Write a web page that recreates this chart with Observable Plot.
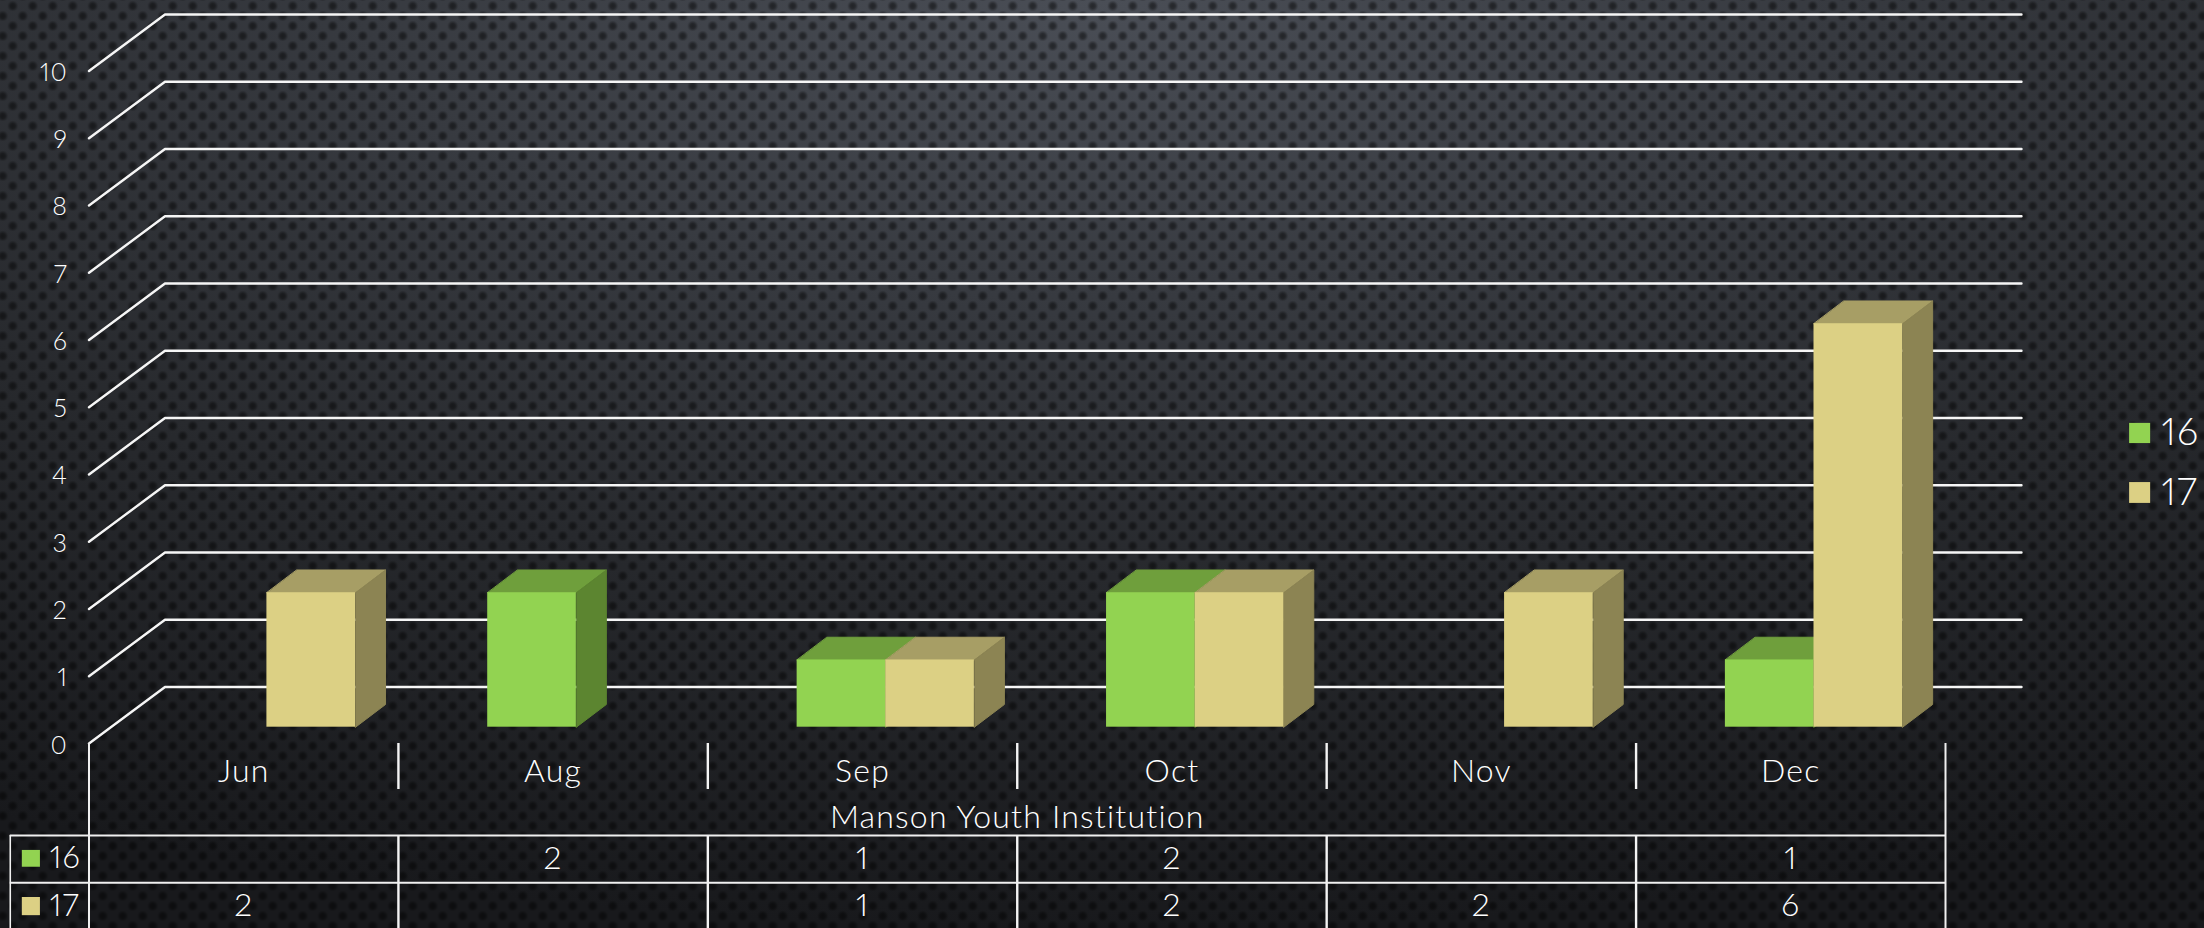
<!DOCTYPE html>
<html><head><meta charset="utf-8">
<script src="https://cdn.jsdelivr.net/npm/d3@7"></script>
<script src="https://cdn.jsdelivr.net/npm/@observablehq/plot@0.6"></script>
<style>
html,body{margin:0;padding:0;width:2204px;height:928px;overflow:hidden}
body{background-color:#1a1c1f;
background-image:
 radial-gradient(circle at center,rgba(0,0,0,.5) 0,rgba(0,0,0,.42) 2.5px,rgba(0,0,0,0) 5.5px),
 radial-gradient(circle at center,rgba(0,0,0,.5) 0,rgba(0,0,0,.42) 2.5px,rgba(0,0,0,0) 5.5px),
 radial-gradient(ellipse 2300px 930px at 50% 0,#4a4e56 0,#373a40 32%,#27292d 62%,#18191c 100%);
background-size:20px 20px,20px 20px,100% 100%;
background-position:2.7px -4px,-7.3px 6px,0 0;
background-repeat:repeat,repeat,no-repeat}
#c svg{display:block}
#c svg text{font-variant-numeric:proportional-nums lining-nums;letter-spacing:1.2px}
</style></head><body><div id="c"></div>
<script>
const months = ["Jun","Aug","Sep","Oct","Nov","Dec"];
const series16 = [null,2,1,2,null,1];
const series17 = [2,null,1,2,2,6];
const seriesNames = ["16","17"];
const yTicks = [0,1,2,3,4,5,6,7,8,9,10];
const groupTitle = "Manson Youth Institution";

const font = "'Lato','Open Sans',sans-serif";
const ink = "#ffffff";
// projection of the pseudo-3D box, in scale units
const wallDX = 0.2456, wallDY = 0.84;
const barFrontDX = 0.075, barFrontDY = 0.2424, barBackDX = 0.172, barBackDY = 0.58;
const barW = 0.2864;
const colors = {
  "16":{front:"#92d351",top:"#6f9f3c",side:"#5c8530"},
  "17":{front:"#dcd084",top:"#a79e65",side:"#8c8453"}
};
const rowTick=-0.684, rowTitle=-1.11, rowTop=-1.368, rowMid=-2.07, rowEnd=-2.8, row16=-1.71, row17=-2.42;

const faces = (vals,name) => {
  const top=[],side=[],front=[];
  vals.forEach((v,i)=>{
    if (v==null) return;
    const x0 = i+0.5 + (name==="16"?-barW:0) + barFrontDX, x1 = x0+barW;
    const y0 = barFrontDY, y1 = v+barFrontDY;
    const bx = barBackDX-barFrontDX, by = barBackDY-barFrontDY;
    const z=name+i;
    [[x0,y1],[x1,y1],[x1+bx,y1+by],[x0+bx,y1+by]].forEach(([x,y])=>top.push({z,x,y}));
    [[x1,y0],[x1+bx,y0+by],[x1+bx,y1+by],[x1,y1]].forEach(([x,y])=>side.push({z,x,y}));
    front.push({x1:x0,x2:x1,y1:y0,y2:y1});
  });
  return {top,side,front};
};
const barMarks = (vals,name) => {
  const f=faces(vals,name), c=colors[name];
  const poly=(d,col)=>Plot.line(d,{x:"x",y:"y",z:"z",fill:col,stroke:col,strokeWidth:1,curve:"linear-closed"});
  return [
    poly(f.top,c.top), poly(f.side,c.side),
    Plot.rect(f.front,{x1:"x1",x2:"x2",y1:"y1",y2:"y2",fill:c.front,inset:0})
  ];
};
const grid = yTicks.flatMap(v=>[
  {z:v,x:0,y:v},{z:v,x:wallDX,y:v+wallDY},{z:v,x:6+wallDX,y:v+wallDY}
]);
const inner = d3.range(1,6);
const centers = months.map((_,i)=>i+0.5);
const txt = {fill:ink,fontFamily:font,fontWeight:300,textAnchor:"middle",lineAnchor:"middle"};
const cellRows = (vals,y)=>vals.map((v,i)=>({x:i+0.5,y,t:v})).filter(d=>d.t!=null);

const plot = Plot.plot({
  width:2204,height:928,
  marginLeft:88.5,marginRight:259,marginTop:14,marginBottom:185,
  style:{background:"transparent",fontFamily:font},
  x:{type:"linear",domain:[0,6],axis:null},
  y:{type:"linear",domain:[0,10.84],axis:null},
  marks:[
    Plot.line(grid,{x:"x",y:"y",z:"z",stroke:"#f6f6f6",strokeWidth:2.4}),
    ...barMarks(series16,"16"),
    ...barMarks(series17,"17"),
    Plot.axisY({ticks:yTicks,tickSize:0,tickPadding:21,dy:2,fontSize:25,fill:ink,fontWeight:300,label:null,tickFormat:d=>String(d)}),
    Plot.axisX({ticks:centers,tickSize:0,tickPadding:28,fontSize:32,fill:ink,fontWeight:300,label:null,lineAnchor:"middle",tickFormat:d=>months[d-0.5]}),
    // table rules
    Plot.ruleX(inner,{x:d=>d,y1:0,y2:rowTick,stroke:"#f4f4f4",strokeWidth:2.4}),
    Plot.ruleX(inner,{x:d=>d,y1:rowTop,y2:rowEnd,stroke:"#f4f4f4",strokeWidth:2.4}),
    Plot.ruleX([0,6],{x:d=>d,y1:0,y2:rowEnd,stroke:"#f0f0f0",strokeWidth:2}),
    Plot.ruleX([-0.2545],{x:d=>d,y1:rowTop,y2:rowEnd,stroke:"#f0f0f0",strokeWidth:1.6}),
    Plot.ruleY([rowTop,rowMid],{y:d=>d,x1:-0.2545,x2:6,stroke:"#f0f0f0",strokeWidth:2}),
    Plot.text([groupTitle],{x:3,y:rowTitle,text:d=>d,fontSize:32,...txt}),
    Plot.text(cellRows(series16,row16),{x:"x",y:"y",text:d=>String(d.t),fontSize:32,...txt}),
    Plot.text(cellRows(series17,row17),{x:"x",y:"y",text:d=>String(d.t),fontSize:32,...txt}),
    // key in table
    Plot.rect(seriesNames,{x1:-0.2155,x2:-0.157,y1:(d,i)=>[-1.59,-2.29][i],y2:(d,i)=>[-1.84,-2.56][i],fill:d=>colors[d].front}),
    Plot.text(seriesNames,{x:-0.127,y:(d,i)=>[row16,row17][i],text:d=>d,fontSize:31,...txt,textAnchor:"start"}),
    // right legend
    Plot.rect(seriesNames,{x1:6.595,x2:6.663,y1:(d,i)=>[4.46,3.57][i],y2:(d,i)=>[4.76,3.88][i],fill:d=>colors[d].front}),
    Plot.text(seriesNames,{x:6.698,y:(d,i)=>[4.62,3.73][i],text:d=>d,fontSize:38,...txt,textAnchor:"start"})
  ]
});
document.getElementById("c").appendChild(plot);
</script></body></html>
